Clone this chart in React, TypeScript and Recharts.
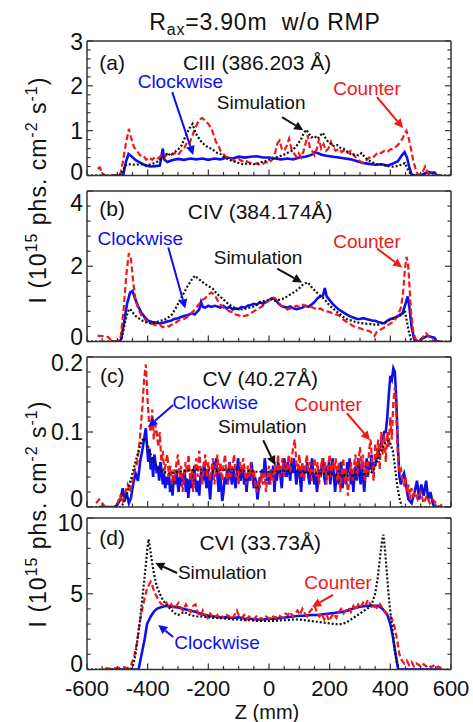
import React from 'react'
import { LineChart, Line, XAxis, YAxis, ReferenceLine, ReferenceDot } from 'recharts'

/* ─── Styling ─── */

const FONT = '"Liberation Sans", Arial, Helvetica, sans-serif'
const BLUE = '#0f0fee'
const RED = '#f01818'
const BLACK = '#111111'
const FRAME = '#333333'

type Pair = [number, number]

/* ─── Z axis ─── */

const Z_DOMAIN: [number, number] = [-600, 600]
const Z_LABELS = [-600, -400, -200, 0, 200, 400, 600]
const Z_MINOR_STEP = 50

/* ─── (a) CIII ─── */

const A_DOMAIN: [number, number] = [0, 3]
const A_LABELS = [0, 1, 2, 3]
const A_MINOR_STEP = 0.2

const A_CLOCKWISE: Pair[] = [
  [-520, 0], [-490, 0], [-480, 0.03], [-472, 0.3], [-463, 0.48], [-452, 0.42], [-437, 0.33], [-420, 0.27],
  [-405, 0.22], [-390, 0.2], [-375, 0.21], [-360, 0.22], [-354, 0.45], [-350, 0.6], [-346, 0.36], [-335, 0.3],
  [-320, 0.34], [-300, 0.37], [-280, 0.35], [-260, 0.38], [-240, 0.36], [-220, 0.38], [-200, 0.35], [-180, 0.38],
  [-160, 0.36], [-140, 0.4], [-120, 0.38], [-100, 0.42], [-80, 0.4], [-60, 0.42], [-40, 0.43], [-20, 0.4],
  [0, 0.4], [20, 0.38], [40, 0.36], [60, 0.38], [80, 0.36], [100, 0.4], [120, 0.42], [140, 0.46], [150, 0.52],
  [160, 0.5], [175, 0.46], [190, 0.44], [210, 0.42], [230, 0.4], [250, 0.38], [270, 0.36], [290, 0.32],
  [310, 0.28], [330, 0.26], [350, 0.24], [370, 0.25], [390, 0.22], [410, 0.27], [425, 0.32], [438, 0.45],
  [447, 0.52], [455, 0.4], [462, 0.2], [470, 0.02], [480, 0], [500, 0], [515, 0.05], [525, 0.08], [535, 0.06],
  [545, 0.07], [552, 0], [565, 0],
]

const A_COUNTER: Pair[] = [
  [-565, 0.15], [-558, 0.18], [-550, 0.05], [-540, 0], [-500, 0], [-490, 0.02], [-482, 0.3], [-472, 0.7],
  [-462, 1.04], [-455, 0.85], [-445, 0.63], [-435, 0.55], [-425, 0.45], [-415, 0.45], [-405, 0.35], [-395, 0.4],
  [-385, 0.35], [-375, 0.42], [-365, 0.38], [-355, 0.45], [-345, 0.4], [-335, 0.48], [-325, 0.45], [-310, 0.5],
  [-300, 0.45], [-290, 0.55], [-280, 0.6], [-270, 0.75], [-262, 0.72], [-252, 0.9], [-240, 1.1], [-230, 1.25],
  [-220, 1.28], [-210, 1.22], [-200, 1.15], [-190, 1.05], [-182, 0.9], [-175, 0.75], [-168, 0.7], [-160, 0.55],
  [-150, 0.48], [-140, 0.4], [-130, 0.38], [-120, 0.35], [-110, 0.33], [-100, 0.37], [-90, 0.32], [-80, 0.35],
  [-70, 0.3], [-60, 0.28], [-50, 0.25], [-40, 0.27], [-30, 0.23], [-20, 0.26], [-10, 0.3], [0, 0.28], [10, 0.35],
  [20, 0.5], [28, 0.72], [35, 0.78], [42, 0.6], [50, 0.55], [58, 0.65], [66, 0.82], [74, 0.6], [82, 0.5],
  [90, 0.42], [98, 0.5], [106, 0.4], [114, 0.55], [122, 0.75], [128, 0.9], [135, 0.6], [142, 0.55], [150, 0.45],
  [158, 0.6], [165, 0.82], [172, 0.6], [180, 0.7], [188, 0.55], [196, 0.6], [204, 0.75], [212, 0.62],
  [220, 0.55], [230, 0.6], [240, 0.52], [250, 0.58], [260, 0.5], [270, 0.55], [280, 0.45], [290, 0.38],
  [300, 0.32], [310, 0.28], [320, 0.33], [330, 0.4], [340, 0.38], [350, 0.45], [360, 0.52], [370, 0.5],
  [380, 0.55], [390, 0.52], [400, 0.58], [410, 0.6], [420, 0.65], [430, 0.72], [440, 0.82], [448, 0.95],
  [453, 1.0], [460, 0.85], [468, 0.6], [475, 0.35], [483, 0.15], [490, 0.03], [500, 0.02], [508, 0.1],
  [515, 0.2], [520, 0.12], [528, 0], [570, 0],
]

const A_SIMULATION: Pair[] = [
  [-600, 0], [-495, 0], [-485, 0.05], [-475, 0.22], [-465, 0.25], [-440, 0.24], [-420, 0.25], [-400, 0.23],
  [-385, 0.26], [-370, 0.3], [-355, 0.38], [-345, 0.42], [-335, 0.5], [-325, 0.45], [-315, 0.5], [-300, 0.58],
  [-290, 0.65], [-280, 0.8], [-270, 0.95], [-262, 1.05], [-252, 1.15], [-245, 1.0], [-238, 0.9], [-230, 0.82],
  [-220, 0.72], [-210, 0.68], [-200, 0.62], [-190, 0.6], [-180, 0.55], [-170, 0.5], [-160, 0.48], [-150, 0.42],
  [-140, 0.38], [-130, 0.35], [-120, 0.32], [-110, 0.3], [-100, 0.28], [-85, 0.25], [-70, 0.27], [-55, 0.25],
  [-40, 0.26], [-25, 0.3], [-10, 0.32], [0, 0.35], [15, 0.38], [30, 0.42], [45, 0.45], [60, 0.5], [75, 0.55],
  [90, 0.65], [105, 0.8], [115, 0.95], [123, 1.02], [130, 0.95], [140, 0.85], [150, 0.88], [160, 0.82],
  [170, 0.9], [178, 0.95], [185, 0.85], [195, 0.75], [205, 0.7], [215, 0.65], [225, 0.68], [235, 0.62],
  [245, 0.6], [255, 0.55], [265, 0.5], [275, 0.45], [285, 0.47], [295, 0.45], [305, 0.5], [315, 0.42],
  [325, 0.35], [340, 0.3], [355, 0.25], [370, 0.25], [385, 0.22], [400, 0.2], [415, 0.2], [430, 0.22],
  [440, 0.25], [448, 0.28], [455, 0.18], [462, 0.08], [470, 0.02], [480, 0], [600, 0],
]

/* ─── (b) CIV ─── */

const B_DOMAIN: [number, number] = [0, 4]
const B_LABELS = [0, 2, 4]
const B_MINOR_STEP = 0.4

const B_CLOCKWISE: Pair[] = [
  [-520, 0], [-495, 0], [-488, 0.05], [-478, 0.5], [-468, 1.0], [-458, 1.3], [-450, 1.34], [-442, 1.15],
  [-432, 0.95], [-422, 0.78], [-410, 0.65], [-398, 0.55], [-385, 0.52], [-372, 0.5], [-360, 0.48], [-348, 0.5],
  [-336, 0.53], [-324, 0.55], [-312, 0.6], [-300, 0.62], [-290, 0.65], [-280, 0.68], [-270, 0.7], [-262, 0.72],
  [-255, 0.75], [-245, 0.72], [-238, 0.78], [-230, 0.85], [-224, 1.05], [-218, 0.92], [-210, 0.9], [-200, 0.95],
  [-190, 0.92], [-180, 0.95], [-170, 0.93], [-160, 0.9], [-150, 0.95], [-140, 0.88], [-130, 0.92], [-120, 0.85],
  [-110, 0.88], [-100, 0.86], [-90, 0.92], [-80, 0.9], [-70, 0.95], [-60, 0.97], [-50, 1.0], [-40, 0.98],
  [-30, 1.05], [-20, 1.0], [-10, 1.05], [0, 1.1], [10, 1.15], [20, 1.12], [30, 1.02], [40, 0.95], [50, 0.92],
  [60, 0.9], [70, 0.93], [80, 0.88], [90, 0.86], [100, 0.88], [110, 0.9], [120, 0.95], [130, 0.92], [140, 0.98],
  [150, 1.05], [160, 1.15], [170, 1.2], [178, 1.22], [184, 1.42], [190, 1.2], [200, 1.1], [210, 1.0],
  [220, 0.92], [230, 0.85], [240, 0.8], [250, 0.75], [260, 0.7], [270, 0.66], [280, 0.63], [290, 0.6],
  [300, 0.6], [310, 0.62], [320, 0.6], [330, 0.58], [340, 0.56], [350, 0.55], [360, 0.52], [370, 0.5],
  [380, 0.48], [390, 0.55], [400, 0.6], [410, 0.62], [420, 0.65], [430, 0.7], [440, 0.75], [450, 1.0],
  [457, 1.2], [463, 0.9], [470, 0.4], [478, 0.08], [485, 0], [495, 0], [505, 0.08], [515, 0.12], [525, 0.15],
  [535, 0.12], [545, 0.1], [552, 0], [565, 0],
]

const B_COUNTER: Pair[] = [
  [-565, 0.15], [-555, 0.15], [-540, 0.13], [-530, 0.12], [-520, 0.02], [-500, 0], [-490, 0.05], [-480, 0.8],
  [-470, 1.8], [-462, 2.35], [-455, 2.2], [-448, 1.6], [-440, 1.1], [-430, 0.85], [-420, 0.68], [-410, 0.6],
  [-400, 0.52], [-390, 0.48], [-380, 0.45], [-370, 0.42], [-360, 0.44], [-350, 0.38], [-340, 0.42], [-330, 0.4],
  [-320, 0.45], [-310, 0.48], [-300, 0.55], [-290, 0.58], [-280, 0.6], [-270, 0.65], [-260, 0.72], [-250, 0.8],
  [-240, 0.9], [-230, 1.0], [-220, 1.1], [-210, 1.15], [-200, 1.25], [-190, 1.3], [-180, 1.25], [-170, 1.1],
  [-160, 0.98], [-150, 0.9], [-140, 0.85], [-130, 0.8], [-120, 0.78], [-110, 0.72], [-100, 0.7], [-90, 0.65],
  [-80, 0.68], [-70, 0.7], [-60, 0.75], [-50, 0.8], [-40, 0.85], [-30, 0.9], [-20, 0.95], [-10, 1.02],
  [0, 1.1], [10, 1.18], [20, 1.15], [30, 1.05], [40, 0.95], [50, 0.9], [60, 0.85], [70, 0.88], [80, 0.9],
  [90, 0.95], [100, 0.92], [110, 0.98], [120, 0.95], [130, 0.9], [140, 0.92], [150, 0.88], [160, 0.85],
  [170, 0.88], [180, 0.82], [190, 0.8], [200, 0.78], [210, 0.75], [220, 0.72], [230, 0.7], [240, 0.62],
  [250, 0.55], [260, 0.5], [270, 0.45], [280, 0.4], [290, 0.38], [300, 0.35], [310, 0.32], [320, 0.3],
  [330, 0.28], [340, 0.22], [348, 0.15], [355, 0.25], [365, 0.3], [375, 0.35], [385, 0.4], [395, 0.45],
  [405, 0.5], [415, 0.58], [425, 0.7], [435, 0.9], [442, 1.3], [448, 1.9], [453, 2.25], [458, 2.1],
  [463, 1.5], [468, 0.8], [475, 0.3], [482, 0.08], [490, 0.02], [500, 0.05], [510, 0.15], [518, 0.22],
  [525, 0.15], [535, 0.05], [545, 0], [570, 0],
]

const B_SIMULATION: Pair[] = [
  [-600, 0], [-492, 0], [-485, 0.1], [-475, 0.5], [-465, 0.8], [-458, 0.87], [-450, 0.78], [-440, 0.68],
  [-430, 0.62], [-420, 0.56], [-410, 0.52], [-400, 0.5], [-390, 0.48], [-380, 0.5], [-370, 0.52], [-360, 0.55],
  [-350, 0.56], [-340, 0.6], [-330, 0.65], [-320, 0.72], [-310, 0.85], [-300, 1.0], [-290, 1.15], [-280, 1.3],
  [-270, 1.45], [-260, 1.58], [-250, 1.7], [-244, 1.75], [-235, 1.68], [-225, 1.62], [-215, 1.55], [-205, 1.5],
  [-195, 1.45], [-185, 1.4], [-175, 1.3], [-165, 1.22], [-155, 1.15], [-145, 1.08], [-135, 1.0], [-125, 0.95],
  [-115, 0.9], [-105, 0.87], [-95, 0.85], [-85, 0.85], [-75, 0.88], [-65, 0.9], [-55, 0.92], [-45, 0.95],
  [-35, 1.0], [-25, 1.05], [-15, 1.08], [0, 1.1], [10, 1.12], [20, 1.08], [30, 1.1], [40, 1.12], [50, 1.15],
  [60, 1.2], [70, 1.25], [80, 1.3], [90, 1.35], [100, 1.42], [110, 1.5], [120, 1.55], [128, 1.57], [135, 1.5],
  [145, 1.4], [155, 1.32], [165, 1.25], [175, 1.18], [185, 1.1], [195, 1.0], [205, 0.92], [215, 0.85],
  [225, 0.78], [235, 0.72], [245, 0.65], [255, 0.6], [265, 0.57], [275, 0.55], [285, 0.52], [295, 0.5],
  [310, 0.48], [325, 0.47], [340, 0.46], [355, 0.44], [370, 0.47], [385, 0.52], [400, 0.58], [415, 0.63],
  [430, 0.68], [440, 0.72], [448, 0.82], [453, 0.6], [460, 0.3], [468, 0.05], [475, 0], [600, 0],
]

/* ─── (c) CV ─── */

const C_DOMAIN: [number, number] = [0, 0.2]
const C_LABELS = [0, 0.1, 0.2]
const C_MINOR_STEP = 0.02

const C_CLOCKWISE: Pair[] = [
  [-560, 0], [-510, 0], [-500, 0.003], [-490, 0.01], [-482, 0.025], [-476, 0.008], [-470, 0.02], [-462, 0.005],
  [-455, 0.012], [-448, 0.03], [-440, 0.045], [-432, 0.035], [-425, 0.06], [-418, 0.075], [-412, 0.09],
  [-406, 0.105], [-402, 0.08], [-398, 0.06], [-394, 0.078], [-390, 0.05], [-386, 0.065], [-382, 0.04],
  [-378, 0.07], [-374, 0.058], [-370, 0.045], [-366, 0.055], [-362, 0.035], [-358, 0.06], [-354, 0.048],
  [-350, 0.03], [-346, 0.045], [-342, 0.025], [-338, 0.04], [-334, 0.03], [-330, 0.045], [-326, 0.02],
  [-322, 0.035], [-318, 0.015], [-314, 0.04], [-310, 0.03], [-306, 0.05], [-302, 0.035], [-298, 0.02],
  [-294, 0.04], [-290, 0.028], [-286, 0.045], [-282, 0.03], [-278, 0.05], [-274, 0.02], [-270, 0.038],
  [-266, 0.012], [-262, 0.03], [-258, 0.045], [-254, 0.025], [-250, 0.04], [-246, 0.055], [-242, 0.03],
  [-238, 0.02], [-234, 0.035], [-230, 0.015], [-226, 0.04], [-222, 0.05], [-218, 0.035], [-214, 0.06],
  [-210, 0.04], [-206, 0.025], [-202, 0.05], [-198, 0.03], [-194, 0.01], [-190, 0.035], [-186, 0.045],
  [-182, 0.06], [-178, 0.05], [-174, 0.065], [-170, 0.04], [-166, 0.02], [-162, 0.045], [-158, 0.03],
  [-154, 0.008], [-150, 0.02], [-146, 0.04], [-142, 0.03], [-138, 0.05], [-134, 0.035], [-130, 0.06],
  [-126, 0.045], [-122, 0.03], [-118, 0.052], [-114, 0.04], [-110, 0.025], [-106, 0.045], [-102, 0.065],
  [-98, 0.05], [-94, 0.035], [-90, 0.045], [-86, 0.055], [-82, 0.03], [-78, 0.045], [-74, 0.02], [-70, 0.04],
  [-66, 0.05], [-62, 0.035], [-58, 0.06], [-54, 0.045], [-50, 0.025], [-46, 0.04], [-42, 0.03], [-38, 0.01],
  [-34, 0.025], [-30, 0.04], [-26, 0.035], [-22, 0.05], [-18, 0.04], [-14, 0.065], [-10, 0.05], [-6, 0.035],
  [-2, 0.045], [2, 0.03], [6, 0.05], [10, 0.04], [14, 0.055], [18, 0.02], [22, 0.045], [26, 0.035], [30, 0.06],
  [34, 0.05], [38, 0.04], [42, 0.025], [46, 0.05], [50, 0.065], [54, 0.055], [58, 0.04], [62, 0.06], [66, 0.05],
  [70, 0.035], [74, 0.06], [78, 0.045], [82, 0.065], [86, 0.05], [90, 0.03], [94, 0.045], [98, 0.055],
  [102, 0.04], [106, 0.02], [110, 0.05], [114, 0.035], [118, 0.055], [122, 0.045], [126, 0.06], [130, 0.04],
  [134, 0.03], [138, 0.05], [142, 0.065], [146, 0.04], [150, 0.03], [154, 0.045], [158, 0.02], [162, 0.035],
  [166, 0.05], [170, 0.04], [174, 0.055], [178, 0.065], [182, 0.04], [186, 0.03], [190, 0.055], [194, 0.045],
  [198, 0.06], [202, 0.03], [206, 0.05], [210, 0.065], [214, 0.04], [218, 0.02], [222, 0.04], [226, 0.05],
  [230, 0.03], [234, 0.055], [238, 0.06], [242, 0.025], [246, 0.04], [250, 0.05], [254, 0.03], [258, 0.06],
  [262, 0.045], [266, 0.065], [270, 0.03], [274, 0.05], [278, 0.02], [282, 0.045], [286, 0.055], [290, 0.035],
  [294, 0.065], [298, 0.05], [302, 0.03], [306, 0.06], [310, 0.04], [314, 0.02], [318, 0.045], [322, 0.065],
  [326, 0.04], [330, 0.06], [334, 0.05], [338, 0.07], [342, 0.045], [346, 0.06], [350, 0.055], [354, 0.065],
  [358, 0.07], [362, 0.075], [366, 0.08], [370, 0.085], [375, 0.09], [380, 0.1], [385, 0.1], [390, 0.12],
  [395, 0.15], [400, 0.175], [405, 0.17], [410, 0.185], [415, 0.18], [420, 0.14], [425, 0.08], [430, 0.04],
  [435, 0.03], [440, 0.04], [445, 0.045], [450, 0.035], [455, 0.02], [460, 0.01], [470, 0.005], [480, 0.02],
  [488, 0.035], [495, 0.01], [502, 0.03], [510, 0.015], [518, 0.035], [525, 0.01], [532, 0.02], [540, 0.005],
  [545, 0], [560, 0],
]

const C_COUNTER: Pair[] = [
  [-570, 0.005], [-560, 0.01], [-550, 0.005], [-540, 0], [-510, 0], [-500, 0.005], [-490, 0.015], [-482, 0.005],
  [-474, 0.02], [-466, 0.03], [-458, 0.02], [-450, 0.035], [-442, 0.05], [-434, 0.06], [-426, 0.09],
  [-418, 0.13], [-412, 0.17], [-406, 0.19], [-400, 0.14], [-395, 0.11], [-390, 0.1], [-385, 0.13], [-380, 0.09],
  [-375, 0.11], [-370, 0.1], [-365, 0.08], [-360, 0.1], [-355, 0.06], [-350, 0.075], [-345, 0.045], [-340, 0.06],
  [-335, 0.07], [-330, 0.04], [-325, 0.055], [-320, 0.03], [-315, 0.05], [-310, 0.035], [-305, 0.06],
  [-300, 0.07], [-295, 0.04], [-290, 0.055], [-285, 0.02], [-280, 0.04], [-275, 0.06], [-270, 0.045],
  [-265, 0.07], [-260, 0.035], [-255, 0.05], [-250, 0.02], [-245, 0.045], [-240, 0.065], [-235, 0.04],
  [-230, 0.075], [-225, 0.05], [-220, 0.03], [-215, 0.055], [-210, 0.07], [-205, 0.04], [-200, 0.06],
  [-195, 0.035], [-190, 0.05], [-185, 0.065], [-180, 0.03], [-175, 0.05], [-170, 0.07], [-165, 0.045],
  [-160, 0.06], [-155, 0.035], [-150, 0.055], [-145, 0.07], [-140, 0.045], [-135, 0.03], [-130, 0.06],
  [-125, 0.04], [-120, 0.055], [-115, 0.07], [-110, 0.04], [-105, 0.05], [-100, 0.03], [-95, 0.06], [-90, 0.045],
  [-85, 0.065], [-80, 0.05], [-75, 0.03], [-70, 0.055], [-65, 0.04], [-60, 0.06], [-55, 0.035], [-50, 0.05],
  [-45, 0.03], [-40, 0.02], [-35, 0.035], [-30, 0.025], [-25, 0.045], [-20, 0.03], [-15, 0.05], [-10, 0.02],
  [-5, 0.04], [0, 0.055], [5, 0.03], [10, 0.05], [15, 0.035], [20, 0.06], [25, 0.045], [30, 0.07], [35, 0.04],
  [40, 0.055], [45, 0.065], [50, 0.04], [55, 0.06], [60, 0.05], [65, 0.07], [70, 0.045], [75, 0.065], [80, 0.08],
  [85, 0.09], [90, 0.06], [95, 0.05], [100, 0.07], [105, 0.04], [110, 0.06], [115, 0.035], [120, 0.055],
  [125, 0.07], [130, 0.045], [135, 0.06], [140, 0.035], [145, 0.05], [150, 0.065], [155, 0.04], [160, 0.06],
  [165, 0.03], [170, 0.05], [175, 0.065], [180, 0.045], [185, 0.06], [190, 0.03], [195, 0.055], [200, 0.07],
  [205, 0.04], [210, 0.06], [215, 0.05], [220, 0.065], [225, 0.035], [230, 0.06], [235, 0.02], [240, 0.045],
  [245, 0.065], [250, 0.03], [255, 0.05], [260, 0.015], [265, 0.04], [270, 0.06], [275, 0.035], [280, 0.055],
  [285, 0.07], [290, 0.04], [295, 0.06], [300, 0.08], [305, 0.05], [310, 0.07], [315, 0.035], [320, 0.06],
  [325, 0.04], [330, 0.075], [335, 0.09], [340, 0.06], [345, 0.035], [350, 0.085], [355, 0.065], [360, 0.09],
  [365, 0.05], [370, 0.1], [375, 0.07], [380, 0.095], [385, 0.06], [390, 0.1], [395, 0.08], [400, 0.12],
  [405, 0.09], [410, 0.14], [415, 0.16], [420, 0.12], [425, 0.07], [430, 0.045], [435, 0.05], [440, 0.035],
  [445, 0.03], [450, 0.04], [455, 0.02], [460, 0.03], [465, 0.01], [470, 0.025], [475, 0.015], [480, 0.02],
  [490, 0.01], [500, 0.02], [510, 0.005], [520, 0.015], [530, 0.005], [540, 0.01], [550, 0.005], [560, 0],
  [575, 0.005],
]

const C_SIMULATION: Pair[] = [
  [-600, 0], [-488, 0], [-480, 0.005], [-470, 0.015], [-460, 0.03], [-450, 0.045], [-440, 0.06], [-430, 0.075],
  [-420, 0.088], [-412, 0.092], [-405, 0.088], [-398, 0.08], [-390, 0.07], [-380, 0.06], [-370, 0.054],
  [-360, 0.05], [-350, 0.048], [-340, 0.046], [-330, 0.045], [-320, 0.045], [-310, 0.046], [-300, 0.047],
  [-280, 0.048], [-260, 0.049], [-240, 0.05], [-220, 0.05], [-200, 0.049], [-180, 0.048], [-160, 0.049],
  [-140, 0.05], [-120, 0.05], [-100, 0.049], [-80, 0.048], [-60, 0.048], [-40, 0.047], [-20, 0.047], [0, 0.047],
  [20, 0.047], [40, 0.048], [60, 0.048], [80, 0.047], [100, 0.046], [120, 0.046], [140, 0.045], [160, 0.045],
  [180, 0.044], [200, 0.044], [220, 0.043], [240, 0.043], [260, 0.042], [280, 0.042], [300, 0.043],
  [320, 0.044], [335, 0.045], [345, 0.05], [355, 0.06], [365, 0.07], [375, 0.08], [385, 0.087], [393, 0.088],
  [400, 0.085], [408, 0.075], [415, 0.055], [422, 0.03], [430, 0.012], [438, 0], [600, 0],
]

/* ─── (d) CVI ─── */

const D_DOMAIN: [number, number] = [0, 10]
const D_LABELS = [0, 5, 10]
const D_MINOR_STEP = 1

const D_CLOCKWISE: Pair[] = [
  [-520, 0], [-430, 0], [-420, 1.0], [-410, 2.0], [-402, 3.0], [-390, 3.5], [-380, 3.8], [-370, 4.0],
  [-358, 4.1], [-340, 4.2], [-320, 4.15], [-300, 4.1], [-280, 4.0], [-260, 3.9], [-240, 3.8], [-220, 3.65],
  [-200, 3.55], [-180, 3.5], [-160, 3.45], [-140, 3.45], [-120, 3.4], [-100, 3.45], [-80, 3.35], [-60, 3.35],
  [-40, 3.3], [-20, 3.3], [0, 3.35], [20, 3.35], [40, 3.4], [60, 3.45], [80, 3.5], [100, 3.55], [120, 3.55],
  [140, 3.6], [160, 3.6], [180, 3.65], [200, 3.7], [220, 3.75], [240, 3.8], [260, 3.9], [280, 4.05],
  [300, 4.15], [320, 4.2], [340, 4.2], [360, 4.2], [375, 4.0], [390, 3.6], [400, 3.0], [408, 2.2], [415, 1.3],
  [420, 0.7], [426, 0], [560, 0],
]

const D_COUNTER: Pair[] = [
  [-540, 0.1], [-520, 0.05], [-500, 0.1], [-480, 0.15], [-465, 0.1], [-455, 0.3], [-445, 0.8], [-435, 1.8],
  [-428, 2.8], [-420, 3.8], [-412, 4.5], [-404, 5.2], [-396, 5.6], [-390, 5.8], [-384, 5.5], [-378, 5.1],
  [-370, 4.8], [-362, 4.5], [-354, 4.3], [-346, 4.2], [-338, 4.4], [-330, 4.1], [-322, 4.3], [-314, 4.0],
  [-306, 4.2], [-298, 4.4], [-290, 4.0], [-282, 3.9], [-274, 4.3], [-266, 4.0], [-258, 3.8], [-250, 4.2],
  [-242, 4.3], [-234, 3.7], [-226, 3.5], [-218, 3.9], [-210, 3.6], [-202, 3.4], [-194, 3.7], [-186, 3.5],
  [-178, 3.4], [-170, 3.6], [-162, 3.3], [-154, 3.5], [-146, 3.4], [-138, 3.6], [-130, 3.5], [-122, 3.3],
  [-114, 3.6], [-106, 3.9], [-98, 3.5], [-90, 3.4], [-82, 3.6], [-74, 3.3], [-66, 3.5], [-58, 3.4], [-50, 3.3],
  [-42, 3.5], [-34, 3.3], [-26, 3.4], [-18, 3.3], [-10, 3.5], [-2, 3.4], [6, 3.3], [14, 3.5], [22, 3.4],
  [30, 3.6], [38, 3.5], [46, 3.4], [54, 3.7], [62, 3.6], [70, 3.8], [78, 3.5], [86, 3.7], [94, 3.9], [102, 3.6],
  [110, 4.0], [118, 3.7], [126, 3.5], [134, 3.8], [142, 4.0], [150, 4.2], [158, 3.8], [166, 3.5], [174, 3.7],
  [182, 3.3], [190, 3.6], [198, 3.2], [206, 3.5], [214, 3.7], [222, 3.4], [230, 3.8], [238, 4.0], [246, 3.7],
  [254, 3.9], [262, 4.1], [270, 3.8], [278, 4.2], [286, 3.9], [294, 4.3], [302, 4.1], [310, 4.4], [318, 4.2],
  [326, 4.6], [334, 4.3], [342, 4.0], [350, 4.2], [358, 4.0], [366, 4.3], [374, 4.1], [382, 3.8], [390, 3.7],
  [398, 3.6], [406, 3.3], [414, 2.8], [422, 2.0], [430, 1.0], [438, 0.6], [446, 0.4], [454, 0.6], [462, 0.3],
  [470, 0.5], [478, 0.2], [486, 0.4], [494, 0.3], [502, 0.15], [510, 0.35], [518, 0.2], [526, 0.3],
  [534, 0.15], [542, 0.25], [550, 0.1], [558, 0.2], [566, 0.1], [575, 0.05],
]

const D_SIMULATION: Pair[] = [
  [-600, 0], [-455, 0], [-448, 0.3], [-440, 1.0], [-432, 2.2], [-424, 3.5], [-416, 5.0], [-408, 6.5],
  [-402, 7.8], [-397, 8.6], [-392, 8.0], [-385, 7.0], [-378, 6.2], [-370, 5.5], [-360, 5.0], [-350, 4.6],
  [-340, 4.3], [-330, 4.1], [-320, 3.9], [-310, 3.7], [-300, 3.6], [-290, 3.7], [-280, 3.8], [-270, 3.7],
  [-260, 3.6], [-250, 3.55], [-240, 3.5], [-220, 3.5], [-200, 3.45], [-180, 3.4], [-160, 3.4], [-140, 3.35],
  [-120, 3.3], [-100, 3.3], [-80, 3.25], [-60, 3.25], [-40, 3.2], [-20, 3.2], [0, 3.2], [20, 3.2], [40, 3.25],
  [60, 3.25], [80, 3.3], [100, 3.3], [120, 3.25], [140, 3.2], [160, 3.15], [180, 3.1], [200, 3.05], [220, 3.0],
  [240, 3.0], [255, 3.1], [270, 3.3], [285, 3.5], [300, 3.7], [315, 3.9], [330, 4.1], [340, 4.4], [350, 5.0],
  [358, 6.0], [365, 7.2], [372, 8.4], [377, 8.9], [382, 8.0], [388, 6.5], [394, 5.0], [400, 3.8], [408, 2.5],
  [415, 1.2], [422, 0.4], [430, 0], [600, 0],
]

/* ─── Annotations (data coordinates) ─── */

interface Note {
  text: string
  color: string
  at: Pair
  arrow?: [Pair, Pair]
  size?: number
}

const A_NOTES: Note[] = [
  { text: '(a)', color: BLACK, at: [-517, 2.53], size: 21 },
  { text: 'CIII (386.203 Å)', color: BLACK, at: [-39, 2.53], size: 21 },
  { text: 'Clockwise', color: BLUE, at: [-292, 2.09], arrow: [[-319, 1.86], [-250, 0.46]] },
  { text: 'Simulation', color: BLACK, at: [-26, 1.62], arrow: [[43, 1.3], [113, 1.01]] },
  { text: 'Counter', color: RED, at: [323, 1.93], arrow: [[356, 1.75], [442, 1.06]] },
]

const B_NOTES: Note[] = [
  { text: '(b)', color: BLACK, at: [-517, 3.53], size: 21 },
  { text: 'CIV (384.174Å)', color: BLACK, at: [-29, 3.45], size: 21 },
  { text: 'Clockwise', color: BLUE, at: [-424, 2.74], arrow: [[-332, 2.5], [-276, 0.88]] },
  { text: 'Simulation', color: BLACK, at: [-36, 2.23], arrow: [[27, 1.94], [109, 1.57]] },
  { text: 'Counter', color: RED, at: [323, 2.66], arrow: [[356, 2.47], [439, 1.97]] },
]

const C_NOTES: Note[] = [
  { text: '(c)', color: BLACK, at: [-517, 0.175], size: 21 },
  { text: 'CV (40.27Å)', color: BLACK, at: [-29, 0.171], size: 21 },
  { text: 'Clockwise', color: BLUE, at: [-177, 0.139], arrow: [[-316, 0.136], [-398, 0.107]] },
  { text: 'Simulation', color: BLACK, at: [-22, 0.108], arrow: [[-19, 0.089], [20, 0.056]] },
  { text: 'Counter', color: RED, at: [195, 0.137], arrow: [[257, 0.125], [333, 0.089]] },
]

const D_NOTES: Note[] = [
  { text: '(d)', color: BLACK, at: [-517, 8.71], size: 21 },
  { text: 'CVI (33.73Å)', color: BLACK, at: [-29, 8.38], size: 21 },
  { text: 'Simulation', color: BLACK, at: [-154, 6.37], arrow: [[-303, 6.37], [-375, 7.03]] },
  { text: 'Counter', color: RED, at: [228, 5.71], arrow: [[211, 4.92], [142, 4.13]] },
  { text: 'Clockwise', color: BLUE, at: [-171, 1.75], arrow: [[-316, 2.15], [-365, 2.94]] },
]

/* ─── Helpers ─── */

function steps(lo: number, hi: number, step: number): number[] {
  const n = Math.round((hi - lo) / step)
  const out: number[] = []
  for (let i = 0; i <= n; i++) out.push(+(lo + i * step).toFixed(6))
  return out
}

const toPoints = (arr: Pair[]) => arr.map(([z, v]) => ({ z, v }))

type Side = 'left' | 'right' | 'top' | 'bottom'

// end labels of stacked panels are nudged inward so neighbouring panels do not collide
function makeTick(side: Side, majors: number[], showLabel: boolean, nudgeTop = 0, nudgeBottom = 0) {
  const lo = Math.min(...majors)
  const hi = Math.max(...majors)
  return function Tick(props: any) {
    const { x, y, payload } = props
    const v = payload.value as number
    const isMajor = majors.some((m) => Math.abs(m - v) < 1e-9)
    const len = isMajor ? 6 : 3.5
    let x2 = x
    let y2 = y
    if (side === 'left') x2 = x + len
    if (side === 'right') x2 = x - len
    if (side === 'top') y2 = y + len
    if (side === 'bottom') y2 = y - len
    let nudge = 0
    if (Math.abs(v - hi) < 1e-9) nudge = nudgeTop
    if (Math.abs(v - lo) < 1e-9) nudge = -nudgeBottom
    return (
      <g>
        <line x1={x} y1={y} x2={x2} y2={y2} stroke={FRAME} strokeWidth={1.2} />
        {showLabel && isMajor && side === 'left' && (
          <text x={x - 4} y={y + nudge} textAnchor="end" dominantBaseline="central" fontSize={23} fontFamily={FONT} fill={BLACK}>
            {String(v)}
          </text>
        )}
        {showLabel && isMajor && side === 'bottom' && (
          <text x={x} y={y + 19} textAnchor="middle" dominantBaseline="central" fontSize={22} fontFamily={FONT} fill={BLACK}>
            {String(v)}
          </text>
        )}
      </g>
    )
  }
}

function arrowShape(color: string) {
  return function ArrowShape(props: any) {
    const { x1, y1, x2, y2 } = props
    if ([x1, y1, x2, y2].some((n) => typeof n !== 'number' || isNaN(n))) return <g />
    const ang = Math.atan2(y2 - y1, x2 - x1)
    const L = 9
    const W = 4.5
    const bx = x2 - L * Math.cos(ang)
    const by = y2 - L * Math.sin(ang)
    const px = -Math.sin(ang) * W
    const py = Math.cos(ang) * W
    return (
      <g>
        <line x1={x1} y1={y1} x2={bx} y2={by} stroke={color} strokeWidth={2} />
        <polygon points={`${x2},${y2} ${bx + px},${by + py} ${bx - px},${by - py}`} fill={color} />
      </g>
    )
  }
}

function labelShape(note: Note) {
  return function LabelShape(props: any) {
    const { cx, cy } = props
    if (typeof cx !== 'number' || typeof cy !== 'number') return <g />
    return (
      <text x={cx} y={cy} textAnchor="middle" dominantBaseline="central" fontSize={note.size ?? 19} fontFamily={FONT} fill={note.color}>
        {note.text}
      </text>
    )
  }
}

/* ─── Panel ─── */

interface PanelProps {
  top: number
  plotHeight: number
  bottomSpace: number
  domain: [number, number]
  labels: number[]
  minorStep: number
  clockwise: Pair[]
  counter: Pair[]
  simulation: Pair[]
  notes: Note[]
  showZLabels: boolean
  nudgeTop: number
  nudgeBottom: number
}

const PAD_TOP = 20
const WIDTH = 473

function Panel(p: PanelProps) {
  const height = PAD_TOP + p.plotHeight + p.bottomSpace
  const yTicks = steps(p.domain[0], p.domain[1], p.minorStep)
  const zTicks = steps(Z_DOMAIN[0], Z_DOMAIN[1], Z_MINOR_STEP)
  const axisLine = { stroke: FRAME, strokeWidth: 1.5 }

  return (
    <div style={{ position: 'absolute', left: 0, top: p.top - PAD_TOP }}>
      <LineChart width={WIDTH} height={height} margin={{ top: PAD_TOP - 1, right: 0, bottom: p.bottomSpace - 1, left: 0 }}>
        <XAxis
          xAxisId={0}
          type="number"
          dataKey="z"
          domain={Z_DOMAIN}
          ticks={zTicks}
          interval={0}
          height={1}
          tickSize={0}
          tickMargin={0}
          tickLine={false}
          axisLine={axisLine}
          tick={makeTick('bottom', Z_LABELS, p.showZLabels)}
          allowDataOverflow
        />
        <XAxis
          xAxisId="top"
          orientation="top"
          type="number"
          domain={Z_DOMAIN}
          ticks={zTicks}
          interval={0}
          height={1}
          tickSize={0}
          tickMargin={0}
          tickLine={false}
          axisLine={axisLine}
          tick={makeTick('top', Z_LABELS, false)}
          allowDataOverflow
        />
        <YAxis
          yAxisId={0}
          type="number"
          domain={p.domain}
          ticks={yTicks}
          interval={0}
          width={87}
          tickSize={0}
          tickMargin={0}
          tickLine={false}
          axisLine={axisLine}
          tick={makeTick('left', p.labels, true, p.nudgeTop, p.nudgeBottom)}
          allowDataOverflow
        />
        <YAxis
          yAxisId="right"
          orientation="right"
          type="number"
          domain={p.domain}
          ticks={yTicks}
          interval={0}
          width={22}
          tickSize={0}
          tickMargin={0}
          tickLine={false}
          axisLine={axisLine}
          tick={makeTick('right', p.labels, false)}
          allowDataOverflow
        />

        <Line
          data={toPoints(p.clockwise)}
          dataKey="v"
          type="linear"
          stroke={BLUE}
          strokeWidth={2.6}
          dot={false}
          activeDot={false}
          isAnimationActive={false}
        />
        <Line
          data={toPoints(p.counter)}
          dataKey="v"
          type="linear"
          stroke={RED}
          strokeWidth={2.2}
          strokeDasharray="6 3"
          dot={false}
          activeDot={false}
          isAnimationActive={false}
        />
        <Line
          data={toPoints(p.simulation)}
          dataKey="v"
          type="linear"
          stroke={BLACK}
          strokeWidth={2.2}
          strokeDasharray="2 2"
          dot={false}
          activeDot={false}
          isAnimationActive={false}
        />

        {p.notes
          .filter((n) => n.arrow)
          .map((n, i) => (
            <ReferenceLine
              key={`arrow-${i}`}
              segment={[
                { x: n.arrow![0][0], y: n.arrow![0][1] },
                { x: n.arrow![1][0], y: n.arrow![1][1] },
              ]}
              ifOverflow="visible"
              shape={arrowShape(n.color)}
            />
          ))}
        {p.notes.map((n, i) => (
          <ReferenceDot
            key={`label-${i}`}
            x={n.at[0]}
            y={n.at[1]}
            r={0}
            ifOverflow="visible"
            shape={labelShape(n)}
          />
        ))}
      </LineChart>
    </div>
  )
}

/* ─── Main ─── */

export default function App() {
  return (
    <div style={{ position: 'absolute', left: 0, top: 0, width: 473, height: 722, background: '#fff', overflow: 'hidden' }}>
      <Panel top={41} plotHeight={134.5} bottomSpace={20} domain={A_DOMAIN} labels={A_LABELS} minorStep={A_MINOR_STEP}
        clockwise={A_CLOCKWISE} counter={A_COUNTER} simulation={A_SIMULATION} notes={A_NOTES} showZLabels={false}
        nudgeTop={1} nudgeBottom={4} />
      <Panel top={190.5} plotHeight={150.5} bottomSpace={20} domain={B_DOMAIN} labels={B_LABELS} minorStep={B_MINOR_STEP}
        clockwise={B_CLOCKWISE} counter={B_COUNTER} simulation={B_SIMULATION} notes={B_NOTES} showZLabels={false}
        nudgeTop={12} nudgeBottom={5} />
      <Panel top={357} plotHeight={150} bottomSpace={20} domain={C_DOMAIN} labels={C_LABELS} minorStep={C_MINOR_STEP}
        clockwise={C_CLOCKWISE} counter={C_COUNTER} simulation={C_SIMULATION} notes={C_NOTES} showZLabels={false}
        nudgeTop={6} nudgeBottom={8} />
      <Panel top={518} plotHeight={151.5} bottomSpace={40} domain={D_DOMAIN} labels={D_LABELS} minorStep={D_MINOR_STEP}
        clockwise={D_CLOCKWISE} counter={D_COUNTER} simulation={D_SIMULATION} notes={D_NOTES} showZLabels={true}
        nudgeTop={5} nudgeBottom={6} />

      {/* Title and axis titles */}
      <svg width={473} height={722} style={{ position: 'absolute', left: 0, top: 0, pointerEvents: 'none' }}>
        <text x={265} y={29.5} textAnchor="middle" fontSize={23} letterSpacing={0.8} fontFamily={FONT} fill={BLACK}>
          R<tspan fontSize={16} dy={5}>ax</tspan>
          <tspan dy={-5}>=3.90m{'\u00a0\u00a0'}w/o RMP</tspan>
        </text>
        {[190, 514].map((cy) => (
          <text key={cy} transform={`translate(46, ${cy}) rotate(-90)`} textAnchor="middle" fontSize={23} letterSpacing={1} fontFamily={FONT} fill={BLACK}>
            I (10<tspan fontSize={16} dy={-9}>15</tspan>
            <tspan dy={9}> phs. cm</tspan>
            <tspan fontSize={16} dy={-9}>-2</tspan>
            <tspan dy={9}> s</tspan>
            <tspan fontSize={16} dy={-9}>-1</tspan>
            <tspan dy={9}>)</tspan>
          </text>
        ))}
        <text x={267} y={719} textAnchor="middle" fontSize={20} fontFamily={FONT} fill={BLACK}>
          Z (mm)
        </text>
      </svg>
    </div>
  )
}
